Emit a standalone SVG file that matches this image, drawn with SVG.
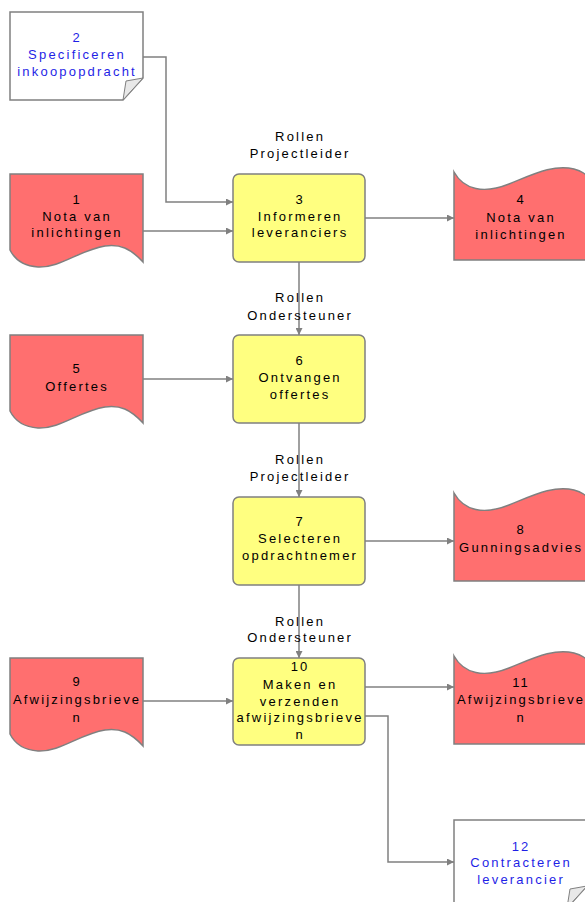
<svg xmlns="http://www.w3.org/2000/svg" width="585" height="902" viewBox="0 0 585 902">
<style>
text{font-family:"Liberation Sans",Arial,sans-serif;font-size:13px;letter-spacing:2.2px;text-anchor:middle;fill:#000}
.b{fill:#1f1fe6}
.red{fill:#ff6f6f;stroke:#808080;stroke-width:1.5}
.yel{fill:#ffff80;stroke:#808080;stroke-width:1.5}
.doc{fill:#fff;stroke:#808080;stroke-width:1.5}
.fold{fill:#e8e8e8;stroke:#808080;stroke-width:1}
.c{fill:none;stroke:#808080;stroke-width:1.5}
</style>
<defs>
<marker id="ah" viewBox="0 0 10 10" refX="10" refY="5" markerWidth="8" markerHeight="7" markerUnits="userSpaceOnUse" orient="auto">
<path d="M0,0 L10,5 L0,10 Z" fill="#808080"/>
</marker>
<path id="docb" d="M0,0 H133 V88 C120,74 110,70 95,72 C70,76 50,94 28,93 C12,92 4,84 0,76 Z"/>
<path id="doct" d="M0,0 C10,18 30,22 55,12 C80,2 100,-8 120,-3 C128,-1 133,3 133,5 V88 H0 Z"/>
</defs>
<g id="connectors">
<path class="c" d="M143,57 H166 V202 H233" marker-end="url(#ah)"/>
<path class="c" d="M143,231 H233" marker-end="url(#ah)"/>
<path class="c" d="M365,218 H454" marker-end="url(#ah)"/>
<path class="c" d="M299,262 V335" marker-end="url(#ah)"/>
<path class="c" d="M143,379 H233" marker-end="url(#ah)"/>
<path class="c" d="M299,423 V497" marker-end="url(#ah)"/>
<path class="c" d="M365,541 H454" marker-end="url(#ah)"/>
<path class="c" d="M299,585 V658" marker-end="url(#ah)"/>
<path class="c" d="M143,701 H233" marker-end="url(#ah)"/>
<path class="c" d="M365,687 H454" marker-end="url(#ah)"/>
<path class="c" d="M365,716 H388 V862 H454" marker-end="url(#ah)"/>
</g>
<g id="node2">
<path class="doc" d="M10,12 H143 V78 L123,100 H10 Z"/>
<path class="fold" d="M143,78 L126,81 L123,100 Z"/>
<text class="b" x="77.1" y="42">2</text>
<text class="b" x="77.1" y="59">Specificeren</text>
<text class="b" x="77.1" y="76">inkoopopdracht</text>
</g>
<g id="node1">
<use href="#docb" class="red" transform="translate(10,174)"/>
<text x="77.1" y="204">1</text>
<text x="77.1" y="221">Nota van</text>
<text x="77.1" y="237">inlichtingen</text>
</g>
<g id="node3">
<text x="300.1" y="141">Rollen</text>
<text x="300.1" y="158">Projectleider</text>
<rect class="yel" x="233" y="174" width="132" height="88" rx="6"/>
<text x="300.1" y="204">3</text>
<text x="300.1" y="221">Informeren</text>
<text x="300.1" y="237">leveranciers</text>
</g>
<g id="node4">
<use href="#doct" class="red" transform="translate(454,172)"/>
<text x="521.1" y="204">4</text>
<text x="521.1" y="222">Nota van</text>
<text x="521.1" y="239">inlichtingen</text>
</g>
<g id="node5">
<use href="#docb" class="red" transform="translate(10,335)"/>
<text x="77.1" y="373">5</text>
<text x="77.1" y="391">Offertes</text>
</g>
<g id="node6">
<text x="300.1" y="302">Rollen</text>
<text x="300.1" y="320">Ondersteuner</text>
<rect class="yel" x="233" y="335" width="132" height="88" rx="6"/>
<text x="300.1" y="365">6</text>
<text x="300.1" y="382">Ontvangen</text>
<text x="300.1" y="399">offertes</text>
</g>
<g id="node7">
<text x="300.1" y="464">Rollen</text>
<text x="300.1" y="481">Projectleider</text>
<rect class="yel" x="233" y="497" width="132" height="88" rx="6"/>
<text x="300.1" y="526">7</text>
<text x="300.1" y="543">Selecteren</text>
<text x="300.1" y="560">opdrachtnemer</text>
</g>
<g id="node8">
<use href="#doct" class="red" transform="translate(454,493)"/>
<text x="521.1" y="534">8</text>
<text x="521.1" y="552">Gunningsadvies</text>
</g>
<g id="node9">
<use href="#docb" class="red" transform="translate(10,658)"/>
<text x="77.1" y="686">9</text>
<text x="77.1" y="704">Afwijzingsbrieve</text>
<text x="77.1" y="722">n</text>
</g>
<g id="node10">
<text x="300.1" y="626">Rollen</text>
<text x="300.1" y="642">Ondersteuner</text>
<rect class="yel" x="233" y="658" width="132" height="87" rx="6"/>
<text x="300.1" y="671">10</text>
<text x="300.1" y="689">Maken en</text>
<text x="300.1" y="706">verzenden</text>
<text x="300.1" y="722">afwijzingsbrieve</text>
<text x="300.1" y="739">n</text>
</g>
<g id="node11">
<use href="#doct" class="red" transform="translate(454,656)"/>
<text x="521.1" y="687">11</text>
<text x="521.1" y="704">Afwijzingsbrieve</text>
<text x="521.1" y="722">n</text>
</g>
<g id="node12">
<path class="doc" d="M454,820 H587 V886 L567,908 H454 Z"/>
<path class="fold" d="M587,886 L570,889 L567,908 Z"/>
<text class="b" x="521.1" y="851">12</text>
<text class="b" x="521.1" y="867">Contracteren</text>
<text class="b" x="521.1" y="884">leverancier</text>
</g>
</svg>
